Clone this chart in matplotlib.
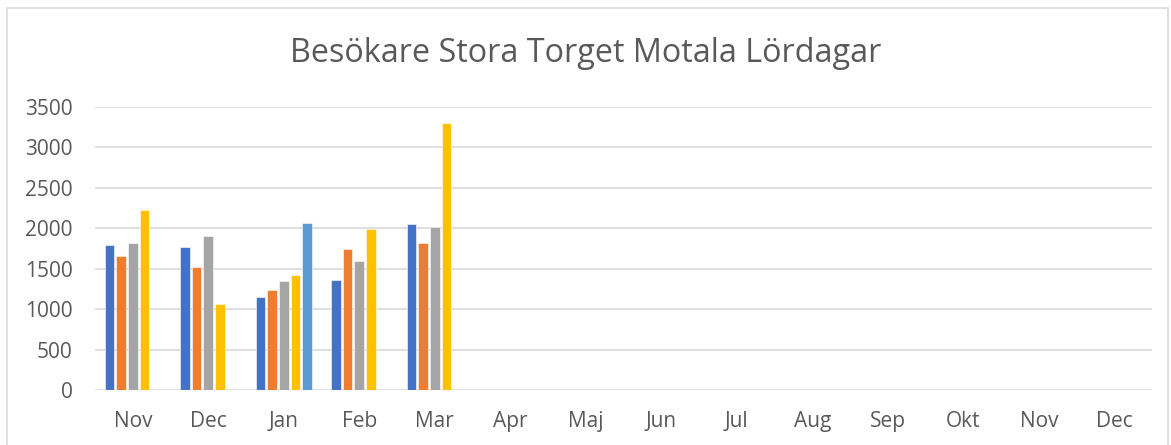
import numpy as np
import matplotlib.pyplot as plt
from matplotlib.patches import Rectangle

plt.rcParams['font.family'] = ['Open Sans', 'DejaVu Sans']

months = ['Nov', 'Dec', 'Jan', 'Feb', 'Mar', 'Apr', 'Maj', 'Jun', 'Jul', 'Aug', 'Sep', 'Okt', 'Nov', 'Dec']
nan = np.nan
# one series per Saturday of the month
week1 = [1790, 1770, 1145, 1355, 2058] + [nan] * 9
week2 = [1663, 1519, 1235, 1750, 1819] + [nan] * 9
week3 = [1819, 1906, 1342, 1593, 2013] + [nan] * 9
week4 = [2223, 1066, 1420, 1988, 3297] + [nan] * 9
week5 = [nan, nan, 2062] + [nan] * 11
series = [week1, week2, week3, week4, week5]
colors = ['#4472C4', '#ED7D31', '#A5A5A5', '#FFC000', '#5B9BD5']

fig = plt.figure(figsize=(11.71, 4.45), dpi=100)
ax = fig.add_axes([95 / 1171, 55 / 445, 1057 / 1171, 283 / 445])

x = np.arange(len(months))
slot = 0.154
for i, (vals, c) in enumerate(zip(series, colors)):
    ax.bar(x + (i - 2) * slot, vals, width=0.128, color=c, edgecolor='white', linewidth=0.4, zorder=3)

ax.set_xlim(-0.5, len(months) - 0.5)
ax.set_ylim(0, 3500)
ax.set_yticks(range(0, 3501, 500))
ax.set_xticks(x)
ax.set_xticklabels(months)
ax.grid(axis='y', color='#d9d9d9', linewidth=1.2, zorder=0)
for s in ax.spines.values():
    s.set_visible(False)
ax.tick_params(axis='both', length=0, labelsize=15, labelcolor='#595959')
ax.tick_params(axis='y', pad=16)
ax.tick_params(axis='x', pad=15)

fig.text(0.5, 1 - 54 / 445, 'Besökare Stora Torget Motala Lördagar', ha='center', va='center',
         fontsize=23.3, color='#595959')

# chart border
fig.patches.append(Rectangle((7 / 1171, -0.1), 1161 / 1171, 1.1 - 8 / 445, transform=fig.transFigure,
                             fill=False, edgecolor='#d9d9d9', linewidth=1.2))

fig.savefig('out.png', dpi=100)
